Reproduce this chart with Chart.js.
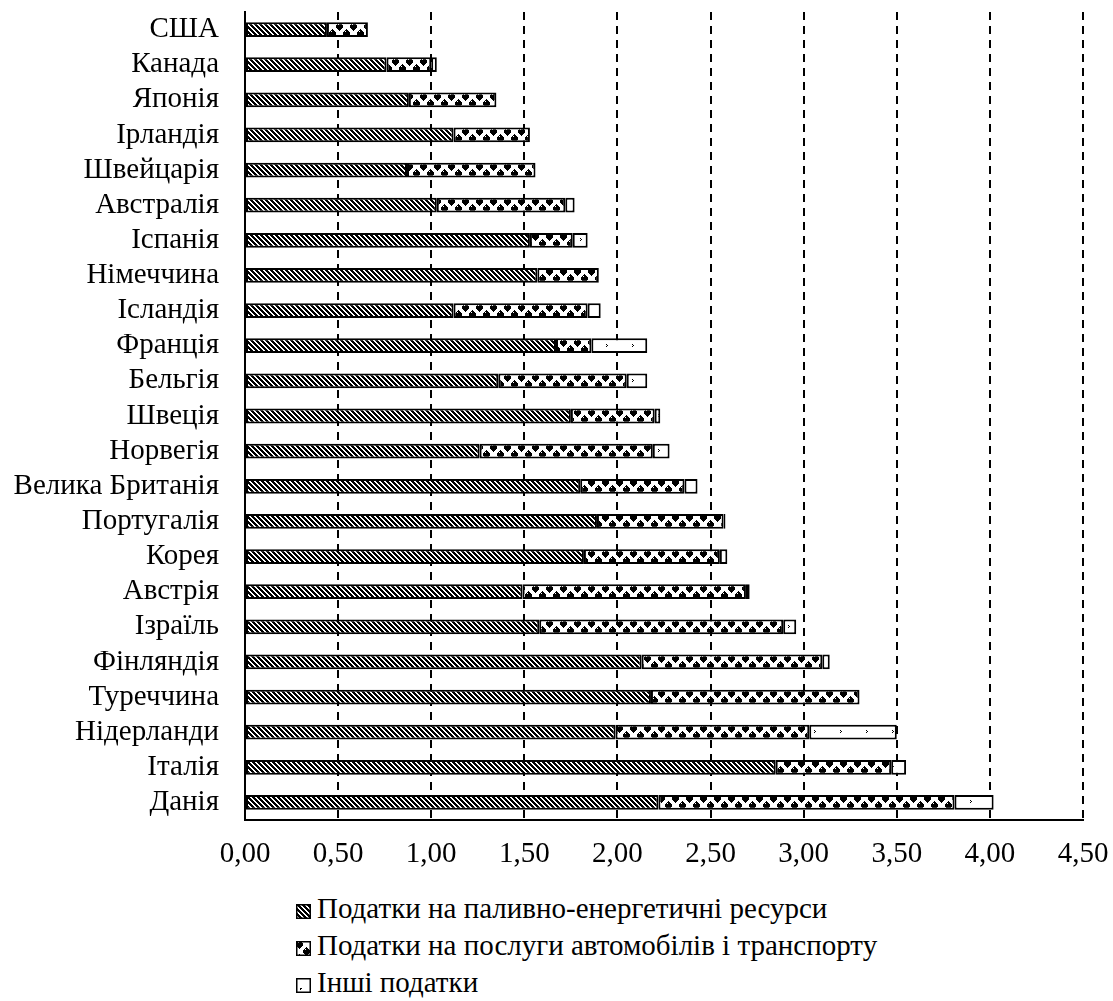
<!DOCTYPE html>
<html><head><meta charset="utf-8">
<script src="https://cdn.jsdelivr.net/npm/chart.js@4.4.1/dist/chart.umd.min.js"></script>
<style>
html,body{margin:0;padding:0;background:#fff;}
#wrap{position:relative;width:1113px;height:1001px;overflow:hidden;}
#box{position:absolute;left:0;top:0;width:1113px;height:880px;}
.lg{position:absolute;left:296px;height:29px;font-family:'Liberation Serif','Times New Roman',serif;font-size:29px;line-height:29px;color:#000;white-space:nowrap;}
.lg canvas{position:absolute;left:0;top:10px;}
.lg span{position:absolute;left:21px;top:0;}
</style></head><body>
<div id="wrap"><div id="box"><canvas id="c"></canvas></div><div id="legend"></div></div>
<script>
const categories = ['США','Канада','Японія','Ірландія','Швейцарія','Австралія','Іспанія','Німеччина','Ісландія','Франція','Бельгія','Швеція','Норвегія','Велика Британія','Португалія','Корея','Австрія','Ізраїль','Фінляндія','Туреччина','Нідерланди','Італія','Данія'];
const fuelTax      = [0.44,0.76,0.88,1.12,0.87,1.03,1.53,1.57,1.12,1.67,1.36,1.75,1.26,1.80,1.89,1.82,1.49,1.58,2.13,2.18,1.99,2.85,2.22];
const transportTax = [0.22,0.24,0.47,0.41,0.69,0.69,0.23,0.33,0.72,0.19,0.69,0.45,0.93,0.56,0.68,0.73,1.20,1.31,0.97,1.12,1.04,0.62,1.59];
const otherTax     = [0.00,0.03,0.00,0.00,0.00,0.05,0.08,0.00,0.07,0.30,0.11,0.03,0.09,0.07,0.01,0.04,0.02,0.07,0.04,0.00,0.47,0.08,0.21];
const seriesNames  = ['Податки на паливно-енергетичні ресурси','Податки на послуги автомобілів і транспорту','Інші податки'];
const xTickValues  = [0,0.5,1,1.5,2,2.5,3,3.5,4,4.5];

function makeTile(w,h,fn){
  const c=document.createElement('canvas');c.width=w;c.height=h;
  const x=c.getContext('2d');const img=x.createImageData(w,h);
  for(let j=0;j<h;j++)for(let i=0;i<w;i++){
    const v=fn(i,j)?0:255;const k=(j*w+i)*4;
    img.data[k]=img.data[k+1]=img.data[k+2]=v;img.data[k+3]=255;}
  x.putImageData(img,0,0);return c;
}
const hatchTile = makeTile(10,10,(i,j)=>(((i-j)%5)+5)%5<3);
const dotTile = makeTile(14,14,(i,j)=>{
  const ci=Math.floor(i/7),cj=Math.floor(j/7);
  const dx=(i%7)-3,dy=(j%7)-3;
  if((ci+cj)%2===0){
    if(dx===-1&&dy===-2) return false;
    return dx*dx+dy*dy<=12;
  }
  return (dx===0&&dy===3)||(dy===-3&&dx===0);
});
const otherTile = makeTile(26,14,(i,j)=>{
  return (i===8&&j===5)||(i===9&&j===6)||(i===8&&j===7);
});
const legendOtherTile = makeTile(15,15,(i,j)=>(i===4&&j===10)||(i===5&&j===10)||(i===4&&j===11));
const tmp=document.createElement('canvas').getContext('2d');
const hatchPat = tmp.createPattern(hatchTile,'repeat');
function alignedPattern(tile){
  return function(ctx){
    const chart=ctx.chart;const ys=chart.scales&&chart.scales.y;
    const p=chart.ctx.createPattern(tile,'repeat');
    if(ys&&ctx.dataIndex!==undefined){
      const yc=ys.getPixelForValue(ctx.dataIndex);
      p.setTransform(new DOMMatrix().translate(0,Math.round(yc-7)));
    }
    return p;
  };
}

Chart.defaults.font.family="'Liberation Serif','Times New Roman',serif";
Chart.defaults.font.size=29;
Chart.defaults.color='#000';

const common={borderColor:'#000',borderWidth:2,borderSkipped:false,barPercentage:0.42,categoryPercentage:1};
new Chart(document.getElementById('c'),{
  type:'bar',
  data:{labels:categories,datasets:[
    Object.assign({label:seriesNames[0],data:fuelTax,backgroundColor:hatchPat},common),
    Object.assign({label:seriesNames[1],data:transportTax,backgroundColor:alignedPattern(dotTile)},common),
    Object.assign({label:seriesNames[2],data:otherTax,backgroundColor:alignedPattern(otherTile)},common)
  ]},
  options:{
    indexAxis:'y',responsive:true,maintainAspectRatio:false,animation:false,devicePixelRatio:1,
    layout:{padding:{top:12,right:30,left:0,bottom:0}},
    plugins:{legend:{display:false},tooltip:{enabled:false}},
    scales:{
      x:{stacked:true,min:0,max:4.5,
        afterBuildTicks:s=>{s.ticks=xTickValues.map(v=>({value:v}));},
        ticks:{padding:17,maxRotation:0,autoSkip:false,callback:v=>Number(v).toFixed(2).replace('.',',')},
        grid:{color:'#000',lineWidth:2,drawTicks:false},
        border:{display:true,color:'#000',width:2,dash:[8,6]},
        afterFit:s=>{s.height=60;s.paddingLeft=0;s.paddingRight=0;}
      },
      y:{stacked:true,
        ticks:{padding:26,autoSkip:false},
        grid:{display:false,drawTicks:false},
        border:{display:true,color:'#000',width:2},
        afterFit:s=>{s.width=245;s.paddingTop=0;s.paddingBottom=0;}
      }
    }
  }
});

const legendTops=[894,931,968];
const legendTiles=[hatchTile,dotTile,legendOtherTile];
const lg=document.getElementById('legend');
seriesNames.forEach((n,i)=>{
  const d=document.createElement('div');d.className='lg';d.style.top=legendTops[i]+'px';
  const cv=document.createElement('canvas');cv.width=15;cv.height=15;
  const cx=cv.getContext('2d');cx.fillStyle=cx.createPattern(legendTiles[i],'repeat');cx.fillRect(0,0,15,15);
  cx.strokeStyle='#000';cx.lineWidth=1.5;cx.strokeRect(0.75,0.75,13.5,13.5);
  const sp=document.createElement('span');sp.textContent=n;
  d.appendChild(cv);d.appendChild(sp);lg.appendChild(d);
});
</script></body></html>
